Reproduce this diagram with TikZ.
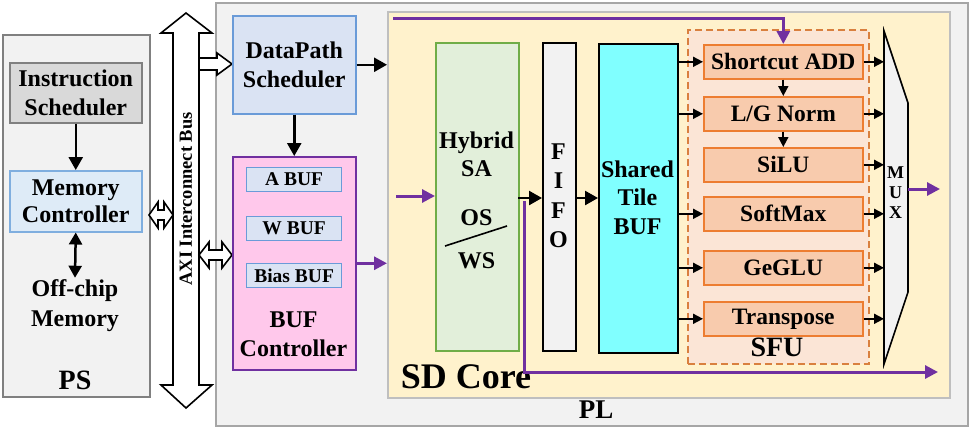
\documentclass[tikz,border=0pt]{standalone}
\usepackage{fontspec}
\setmainfont{Liberation Serif}
\usetikzlibrary{arrows.meta,calc}
\definecolor{psfill}{HTML}{F2F2F2}
\definecolor{psline}{HTML}{808080}
\definecolor{plline}{HTML}{A6A6A6}
\definecolor{sdfill}{HTML}{FFF2CC}
\definecolor{sdline}{HTML}{BFBFBF}
\definecolor{isfill}{HTML}{D9D9D9}
\definecolor{mcfill}{HTML}{DEEBF7}
\definecolor{mcline}{HTML}{7FAEDF}
\definecolor{dpfill}{HTML}{DAE3F3}
\definecolor{dpline}{HTML}{6A9BD8}
\definecolor{buffill}{HTML}{FFC8EB}
\definecolor{purp}{HTML}{7030A0}
\definecolor{hyfill}{HTML}{E2EFDA}
\definecolor{hyline}{HTML}{70AD47}
\definecolor{cyanfill}{HTML}{80FFFF}
\definecolor{sfufill}{HTML}{FBE5D6}
\definecolor{sfuline}{HTML}{D9803F}
\definecolor{blkfill}{HTML}{F8CBAD}
\definecolor{blkline}{HTML}{ED7D31}
\newcommand{\fs}[2]{\fontsize{#1}{#2}\selectfont\bfseries}
\tikzset{
  rbox/.style={draw, inner sep=0pt, anchor=north west},
  lbl/.style={align=center, inner sep=0pt, font=\fs{24}{28.5}},
  arr/.style={draw=black, line width=2.5pt, -{Triangle[length=13pt,width=14pt]}},
  darr/.style={draw=black, line width=2.5pt, {Triangle[length=12pt,width=13pt]}-{Triangle[length=12pt,width=13pt]}},
  sarr/.style={draw=black, line width=1.8pt, -{Triangle[length=10pt,width=10pt]}},
  parr/.style={draw=purp, line width=3pt, -{Triangle[length=13pt,width=13pt]}},
  blk/.style={rbox, fill=blkfill, draw=blkline, line width=1.6pt, minimum width=159pt, minimum height=34pt, font=\fs{23.5}{26}},
  subbuf/.style={rbox, fill=dpfill, draw=dpline, line width=1.2pt, minimum width=95pt, minimum height=24pt, font=\fs{19.5}{22}},
  hollow/.style={draw=black, fill=white, line width=1.6pt, line join=miter}
}
\begin{document}
\begin{tikzpicture}[x=1pt,y=-1pt]
\useasboundingbox (0,0) rectangle (969,440);
% PS region
\node[rbox, fill=psfill, draw=psline, line width=2pt, minimum width=147pt, minimum height=362pt] (ps) at (2,34) {};
\node[lbl, font=\fs{28}{32}] (pslbl) at (75,380) {PS};
\node[rbox, fill=isfill, draw=psline, line width=1.5pt, minimum width=132pt, minimum height=60pt, lbl, anchor=north west] (is) at (9,62) {Instruction\\Scheduler};
\node[rbox, fill=mcfill, draw=mcline, line width=1.5pt, minimum width=132pt, minimum height=61pt, lbl, font=\fs{24}{27}, anchor=north west] (mc) at (9,170) {Memory\\Controller};
\node[lbl, font=\fs{24}{30}] (off) at (75,306) {Off-chip\\Memory};
\draw[arr] (is.south) -- (mc.north);
\draw[darr] (mc.south) -- ($(off.north)+(0,-2)$);
% PL region
\node[rbox, fill=psfill, draw=plline, line width=1.5pt, minimum width=752pt, minimum height=423pt] (pl) at (215,2) {};
\node[lbl, font=\fs{27}{30}] (pllbl) at (596,410) {PL};
% AXI bus
\draw[hollow] (173,33) -- (161,33) -- (186,13) -- (212,33) -- (199,33) -- (199,385) -- (212,385) -- (186,408) -- (161,385) -- (173,385) -- cycle;
\node[lbl, rotate=90, font=\fs{18.5}{20}] (axi) at (186,199) {AXI Interconnect Bus};
\draw[hollow] (149,215) -- (158,202) -- (158,210) -- (164,210) -- (164,202) -- (173,215) -- (164,228) -- (164,220) -- (158,220) -- (158,228) -- cycle;
\draw[hollow] (199,58) -- (217,58) -- (217,53) -- (232,64) -- (217,75) -- (217,70) -- (199,70) -- cycle;
\draw[hollow] (199,255) -- (209,242) -- (209,250) -- (222,250) -- (222,242) -- (232,255) -- (222,268) -- (222,260) -- (209,260) -- (209,268) -- cycle;
% DataPath + BUF controller
\node[rbox, fill=dpfill, draw=dpline, line width=1.5pt, minimum width=123pt, minimum height=98pt, lbl, font=\fs{24}{29}, anchor=north west] (dp) at (232,15) {DataPath\\Scheduler};
\node[rbox, fill=buffill, draw=purp, line width=1.5pt, minimum width=123pt, minimum height=213pt] (buf) at (232,156) {};
\node[subbuf] (abuf) at (246,167) {A BUF};
\node[subbuf] (wbuf) at (246,216) {W BUF};
\node[subbuf] (bbuf) at (246,263) {Bias BUF};
\node[lbl, font=\fs{24}{29}] (buflbl) at (293.5,334.5) {BUF\\Controller};
\draw[arr] (dp.south) -- (buf.north);
% SD core
\node[rbox, fill=sdfill, draw=sdline, line width=2pt, minimum width=562pt, minimum height=386pt] (sd) at (387,11) {};
\node[lbl, font=\fs{36}{38}] (sdlbl) at (466,377) {SD Core};
\draw[arr] (dp.east) -- (dp.east -| sd.west);
\draw[parr] (buf.east) -- (buf.east -| sd.west);
% Hybrid SA
\node[rbox, fill=hyfill, draw=hyline, line width=1.5pt, minimum width=83pt, minimum height=308pt] (hy) at (435,42) {};
\node[lbl] (hytxt) at (476.5,154.5) {Hybrid\\SA};
\node[lbl] (os) at (476.5,218) {OS};
\node[lbl] (ws) at (476.5,261) {WS};
\coordinate (sl1) at (445,246);
\coordinate (sl2) at (507,226);
\draw[line width=1.6pt] (sl1) -- (sl2);
\coordinate (pin) at (396,196);
\draw[parr] (pin) -- (pin -| hy.west);
% FIFO
\node[rbox, fill=psfill, draw=black, line width=1.5pt, minimum width=33pt, minimum height=308pt] (fifo) at (542,42) {};
\node[lbl, font=\fs{24}{29.5}] (fifotxt) at (558.5,196) {F\\I\\F\\O};
% Shared tile BUF
\node[rbox, fill=cyanfill, draw=black, line width=1.5pt, minimum width=79pt, minimum height=309pt] (sh) at (598,43) {};
\node[lbl] (shtxt) at (637.5,197.5) {Shared\\Tile\\BUF};
\coordinate (hyo) at (518,198);
\draw[arr] (hyo) -- (hyo -| fifo.west);
\coordinate (fio) at (575,198);
\draw[arr] (fio) -- (fio -| sh.west);
% purple bottom path
\coordinate (pb) at (524,201);
\coordinate (pe) at (938,372);
\draw[parr] (pb) |- (pe);
% SFU
\node[rbox, fill=sfufill, draw=sfuline, line width=1.5pt, dash pattern=on 7pt off 4pt, minimum width=181pt, minimum height=334pt] (sfu) at (687,29) {};
\node[lbl, font=\fs{28}{30}] (sfulbl) at (777,347) {SFU};
\node[blk] (sc) at (703,44) {Shortcut ADD};
\node[blk] (lg) at (703,96) {L/G Norm};
\node[blk] (si) at (703,147) {SiLU};
\node[blk] (sm) at (703,196) {SoftMax};
\node[blk] (ge) at (703,250) {GeGLU};
\node[blk] (tr) at (703,301) {Transpose};
\draw[sarr] (sc.south) -- (lg.north);
\draw[sarr] (lg.south) -- (si.north);
\foreach \b in {sc,lg,sm,ge,tr} { \draw[sarr] (sh.east |- \b.west) -- (\b.west); }
% purple top path
\coordinate (pt) at (393,18);
\draw[parr] (pt) -| (sc.north);
% MUX
\coordinate (m1) at (884,31);
\coordinate (m2) at (908,103);
\coordinate (m3) at (908,292);
\coordinate (m4) at (884,364);
\draw[fill=psfill, draw=black, line width=1.6pt] (m1) -- (m2) -- (m3) -- (m4) -- cycle;
\node[lbl, font=\fs{18}{20}] (muxtxt) at (895.5,193) {M\\U\\X};
\foreach \b in {sc,lg,si,sm,ge,tr} { \draw[sarr] (\b.east) -- (\b.east -| m1); }
\coordinate (mo) at (908,189);
\coordinate (mout) at (940,189);
\draw[parr] (mo) -- (mout);
\end{tikzpicture}
\end{document}
